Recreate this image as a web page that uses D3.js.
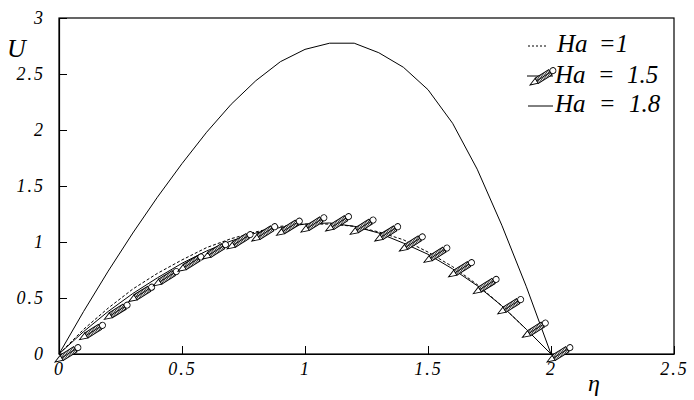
<!DOCTYPE html>
<html>
<head>
<meta charset="utf-8">
<script src="https://cdn.jsdelivr.net/npm/d3@7"></script>
<style>
  html, body { margin: 0; padding: 0; background: #fff; }
  svg { display: block; }
</style>
</head>
<body>
<svg id="chart" width="694" height="400"></svg>
<script>
// ---- data ----
const eta    = [0, 0.1, 0.2, 0.3, 0.4, 0.5, 0.6, 0.7, 0.8, 0.9, 1.0, 1.1, 1.2, 1.3, 1.4, 1.5, 1.6, 1.7, 1.8, 1.9, 2.0];
const uHa1   = [0, 0.22, 0.41, 0.58, 0.72, 0.84, 0.95, 1.03, 1.09, 1.14, 1.16, 1.16, 1.14, 1.09, 1.02, 0.91, 0.78, 0.62, 0.43, 0.22, 0];
const uHa15  = [0, 0.20, 0.38, 0.54, 0.68, 0.81, 0.92, 1.01, 1.08, 1.13, 1.16, 1.17, 1.14, 1.08, 0.99, 0.89, 0.76, 0.61, 0.43, 0.22, 0];
const uHa18  = [0, 0.38, 0.74, 1.08, 1.40, 1.70, 1.98, 2.23, 2.44, 2.61, 2.72, 2.775, 2.775, 2.69, 2.56, 2.36, 2.06, 1.65, 1.15, 0.60, 0];
const xTicks = [0, 0.5, 1, 1.5, 2, 2.5];
const xTickLabels = ["0", "0.5", "1", "1.5", "2", "2.5"];
const yTicks = [0, 0.5, 1, 1.5, 2, 2.5, 3];
const yTickLabels = ["0", "0.5", "1", "1.5", "2", "2.5", "3"];
const legendLabels = ["Ha =1", "Ha = 1.5", "Ha = 1.8"];
const xTitle = "η";
const yTitle = "U";

// ---- layout ----
const FONT = "Liberation Serif";
const svg = d3.select("#chart");
const x = d3.scaleLinear().domain([0, 2.5]).range([59, 674]);
const y = d3.scaleLinear().domain([0, 3]).range([354, 18]);

function serif(sel, size) {
  return sel.attr("font-family", FONT).attr("font-style", "italic").attr("font-size", size)
    .style("font-family", '"Liberation Serif"').style("font-style", "italic")
    .style("font-size", size + "px").attr("fill", "#000");
}

// frame
svg.append("rect")
  .attr("x", x(0)).attr("y", y(3))
  .attr("width", x(2.5) - x(0)).attr("height", y(0) - y(3))
  .attr("fill", "none").attr("stroke", "#000").attr("stroke-width", 1.2);

// axes
const xAxis = d3.axisBottom(x).tickValues(xTicks)
  .tickFormat((d, i) => xTickLabels[i]).tickSize(-8).tickSizeOuter(0);
const gx = svg.append("g").attr("transform", `translate(0,${y(0)})`).call(xAxis)
  .attr("font-family", FONT);
gx.select(".domain").attr("stroke", "#000").attr("stroke-width", 1.2);
gx.selectAll(".tick line").attr("stroke", "#000").attr("stroke-width", 1);
serif(gx.selectAll(".tick text"), 18)
  .attr("y", 21).attr("dy", null).style("letter-spacing", "2px");

const yAxis = d3.axisLeft(y).tickValues(yTicks)
  .tickFormat((d, i) => yTickLabels[i]).tickSize(-8).tickSizeOuter(0);
const gy = svg.append("g").attr("transform", `translate(${x(0)},0)`).call(yAxis)
  .attr("font-family", FONT);
gy.select(".domain").attr("stroke", "#000").attr("stroke-width", 1.2);
gy.selectAll(".tick line").attr("stroke", "#000").attr("stroke-width", 1);
serif(gy.selectAll(".tick text"), 18)
  .attr("x", -14).attr("dy", "0.32em").style("letter-spacing", "2px");

// axis titles
serif(svg.append("text").attr("x", 7).attr("y", 57), 26).text(yTitle);
serif(svg.append("text").attr("x", 588).attr("y", 391), 24).text(xTitle);

// lines
const line = d3.line().x(d => x(d[0])).y(d => y(d[1]));
const s1 = eta.map((e, i) => [e, uHa1[i]]);
const s15 = eta.map((e, i) => [e, uHa15[i]]);
const s18 = eta.map((e, i) => [e, uHa18[i]]);

svg.append("path").attr("d", line(s1)).attr("fill", "none")
  .attr("stroke", "#000").attr("stroke-width", 1).attr("stroke-dasharray", "3,2");
svg.append("path").attr("d", line(s15)).attr("fill", "none")
  .attr("stroke", "#000").attr("stroke-width", 1);
svg.append("path").attr("d", line(s18)).attr("fill", "none")
  .attr("stroke", "#000").attr("stroke-width", 1);

// pencil marker
function pencil(g) {
  g.append("polygon").attr("points", "0,0 8,-3 8,3")
    .attr("fill", "#fff").attr("stroke", "#000").attr("stroke-width", 0.9);
  g.append("rect").attr("x", 8).attr("y", -3).attr("width", 16).attr("height", 6)
    .attr("fill", "#fff").attr("stroke", "#000").attr("stroke-width", 0.9);
  for (let u = 9.5; u < 24; u += 1.6) {
    g.append("line").attr("x1", u).attr("x2", u).attr("y1", -3).attr("y2", 3)
      .attr("stroke", "#000").attr("stroke-width", 0.7);
  }
  g.append("line").attr("x1", 8).attr("x2", 24).attr("y1", 0).attr("y2", 0)
    .attr("stroke", "#000").attr("stroke-width", 0.8);
  g.append("circle").attr("cx", 27).attr("cy", 0).attr("r", 3)
    .attr("fill", "#fff").attr("stroke", "#000").attr("stroke-width", 0.9);
}

const markers = svg.append("g").selectAll("g").data(s15).join("g")
  .attr("transform", d => `translate(${x(d[0]) - 4},${y(d[1]) + 8}) rotate(-32)`);
markers.each(function () { pencil(d3.select(this)); });

// legend
const lg = svg.append("g");
lg.append("line").attr("x1", 528).attr("x2", 548).attr("y1", 46).attr("y2", 46)
  .attr("stroke", "#000").attr("stroke-width", 1).attr("stroke-dasharray", "2,2");
lg.append("line").attr("x1", 527).attr("x2", 553).attr("y1", 76).attr("y2", 76)
  .attr("stroke", "#000").attr("stroke-width", 1);
const lp = lg.append("g").attr("transform", "translate(530,85) rotate(-32)");
pencil(lp);
lg.append("line").attr("x1", 528).attr("x2", 553).attr("y1", 106).attr("y2", 106)
  .attr("stroke", "#000").attr("stroke-width", 1);

const legY = [52, 83, 112];
const legX = [557, 555, 555];
const legWordSpacing = [5, 6, 7];
legendLabels.forEach((t, i) => {
  serif(lg.append("text").attr("x", legX[i]).attr("y", legY[i]), 25)
    .style("word-spacing", legWordSpacing[i] + "px")
    .style("white-space", "pre").text(t);
});
</script>
</body>
</html>
